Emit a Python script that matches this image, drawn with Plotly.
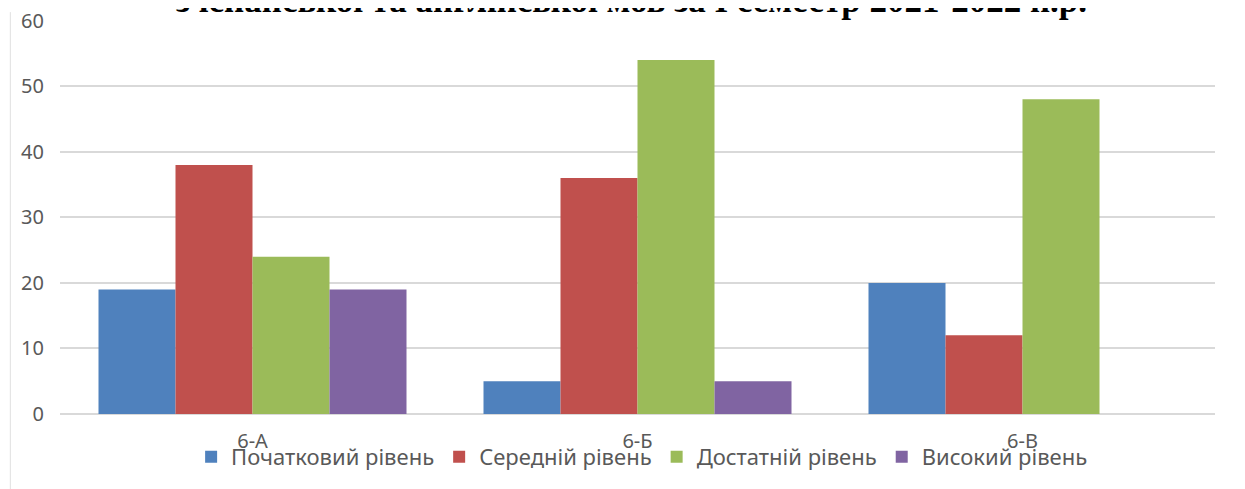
import plotly.graph_objects as go

categories = ["6-А", "6-Б", "6-В"]
series_names = ["Початковий рівень", "Середній рівень", "Достатній рівень", "Високий рівень"]
initial = [19, 5, 20]
middle = [38, 36, 12]
sufficient = [24, 54, 48]
high = [19, 5, 0]
colors = ["#4F81BD", "#C0504D", "#9BBB59", "#8064A2"]
title_text = "з іспанської та англійської мов за І семестр 2021-2022 н.р."
y_ticks = [0, 10, 20, 30, 40, 50, 60]

fig = go.Figure()
for name, vals, col in zip(series_names, [initial, middle, sufficient, high], colors):
    fig.add_trace(go.Bar(name=name, x=categories, y=vals, marker=dict(color=col, line=dict(width=0))))

fig.update_layout(
    width=1245, height=489,
    paper_bgcolor="white", plot_bgcolor="white",
    margin=dict(l=52, r=38, t=12, b=83),
    barmode="group", bargap=0.2, bargroupgap=0,
    legend=dict(orientation="h", x=0.504, xanchor="center", y=-0.109, yanchor="middle",
                font=dict(family="Noto Sans", size=22, color="#595959"),
                itemwidth=30, tracegroupgap=0, bgcolor="rgba(0,0,0,0)"),
    font=dict(family="Noto Sans", size=20, color="#595959"),
)
fig.add_annotation(text=title_text, xref="paper", yref="paper", x=0.495, y=1.05,
                   xanchor="center", yanchor="middle", showarrow=False,
                   font=dict(family="Liberation Serif", size=35, color="black", weight="bold"))
fig.update_xaxes(showgrid=False, showline=False, ticks="", tickfont=dict(size=20, color="#595959"),
                 ticklabelstandoff=13, automargin=False)
fig.update_yaxes(range=[0, 60.1], tickmode="array", tickvals=y_ticks, showgrid=True,
                 gridcolor="#D9D9D9", gridwidth=1.5, ticklabeloverflow="allow", automargin=False,
                 zeroline=True, zerolinecolor="#D9D9D9", zerolinewidth=1.5,
                 ticks="", tickfont=dict(size=20, color="#595959"), ticklabelstandoff=15)
fig.add_shape(type="line", xref="paper", yref="paper", x0=-0.043, x1=-0.043, y0=-0.3, y1=1.02,
              line=dict(color="#E0E0E0", width=1))
fig.write_html("out.html")
